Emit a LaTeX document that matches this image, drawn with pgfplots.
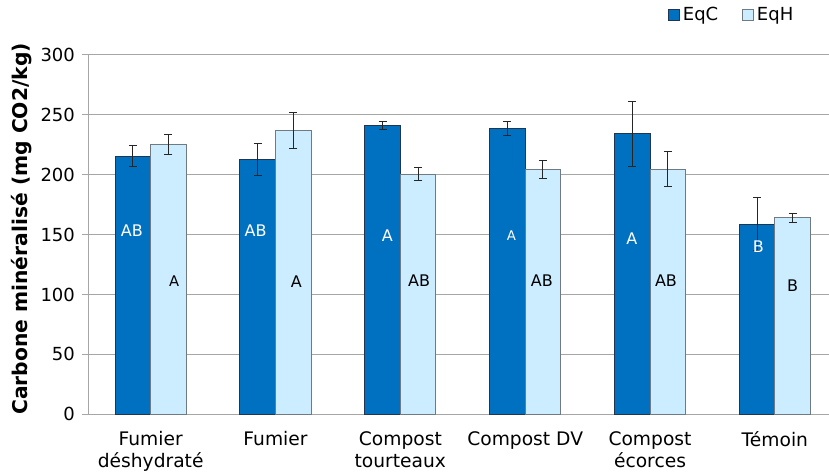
\documentclass[border=0pt]{standalone}
\usepackage{pgfplots}
\pgfplotsset{compat=1.18}
\usepackage{fontspec}
\setmainfont{DejaVu Sans}
\definecolor{eqc}{HTML}{0070C0}
\definecolor{eqcedge}{HTML}{1F3550}
\definecolor{eqh}{HTML}{CCECFF}
\definecolor{eqhedge}{HTML}{6F7A82}
\definecolor{gridgray}{HTML}{A6A6A6}

% mean and standard deviation of mineralised carbon per amendment
\pgfplotstableread{
x  c      ce    h      he
0  215.5  9.0   225.5  8.2
1  212.5  13.5  236.7  15.0
2  241.4  3.2   200.6  5.3
3  238.6  5.8   204.2  7.5
4  234.2  27.0  204.7  14.5
5  158.9  22.0  164.2  3.7
}\datatable

\begin{document}
\begin{tikzpicture}
\useasboundingbox (0,0) rectangle (621.75pt,356.25pt);
\begin{axis}[
  at={(66.2pt,45.5pt)}, anchor=south west,
  scale only axis, width=561.75pt, height=269.5pt,
  xmin=-0.5, xmax=5.5, ymin=0, ymax=300,
  ybar=0pt, bar width=0.285,
  axis x line*=bottom, axis y line*=left,
  axis line style={gridgray, line width=0.75pt},
  ymajorgrids, grid style={gridgray, line width=0.75pt},
  tick align=outside,
  ytick={0,50,...,300},
  ytick style={gridgray, line width=0.75pt},
  major tick length=4.5pt,
  xtick={0,...,5},
  xticklabels={{Fumier\\déshydraté},{Fumier},{Compost\\tourteaux},{Compost DV},{Compost\\écorces},{Témoin}},
  xtick style={draw=none},
  minor xtick={-0.5,0.5,...,5.5},
  minor tick length=5.6pt,
  minor x tick style={gridgray, line width=0.75pt},
  xticklabel style={align=center, font=\fontsize{14}{16.5}\selectfont, yshift=-5pt},
  yticklabel style={font=\fontsize{13.5}{16}\selectfont, xshift=-2pt},
  /pgf/number format/assume math mode=true,
  ylabel={\textbf{Carbone minéralisé (mg CO2/kg)}},
  ylabel style={at={(axis description cs:-0.0885,0.516)}, anchor=center, font=\fontsize{15.2}{17}\selectfont},
  legend style={at={(axis description cs:0.774,1.111)}, anchor=west, draw=none, fill=none,
    inner sep=0pt, font=\fontsize{13.5}{16}\selectfont,
    nodes={inner xsep=2pt},
    /tikz/every even column/.append style={column sep=16pt}},
  legend columns=-1,
  legend image code/.code={\draw[#1, line width=0.6pt] (0pt,-4.2pt) rectangle (8.4pt,4.2pt);},
  error bars/error bar style={line width=0.75pt, black!85},
  error bars/error mark options={rotate=90, mark size=3pt, line width=0.75pt, black!85},
]
\addplot[fill=eqc, draw=eqcedge, line width=0.75pt,
  error bars/.cd, y dir=both, y explicit]
  table[x=x, y=c, y error=ce] {\datatable};
\addlegendentry{EqC}
\addplot[fill=eqh, draw=eqhedge, line width=0.75pt,
  error bars/.cd, y dir=both, y explicit]
  table[x=x, y=h, y error=he] {\datatable};
\addlegendentry{EqH}

% significance letters
\begin{scope}[every node/.style={font=\fontsize{12}{14}\selectfont}]
\node[white] at (axis cs:-0.150,153.1) {AB};
\node[font=\fontsize{11}{13}\selectfont] at (axis cs:0.187,111.1) {A};
\node[white] at (axis cs:0.840,153.3) {AB};
\node at (axis cs:1.166,111.1) {A};
\node[white] at (axis cs:1.895,149.2) {A};
\node at (axis cs:2.150,111.4) {AB};
\node[white, font=\fontsize{10}{12}\selectfont] at (axis cs:2.890,149.2) {A};
\node at (axis cs:3.134,111.4) {AB};
\node[white] at (axis cs:3.855,146.7) {A};
\node at (axis cs:4.128,111.4) {AB};
\node[white] at (axis cs:4.868,139.7) {B};
\node at (axis cs:5.143,107.5) {B};
\end{scope}
\end{axis}
\end{tikzpicture}
\end{document}
